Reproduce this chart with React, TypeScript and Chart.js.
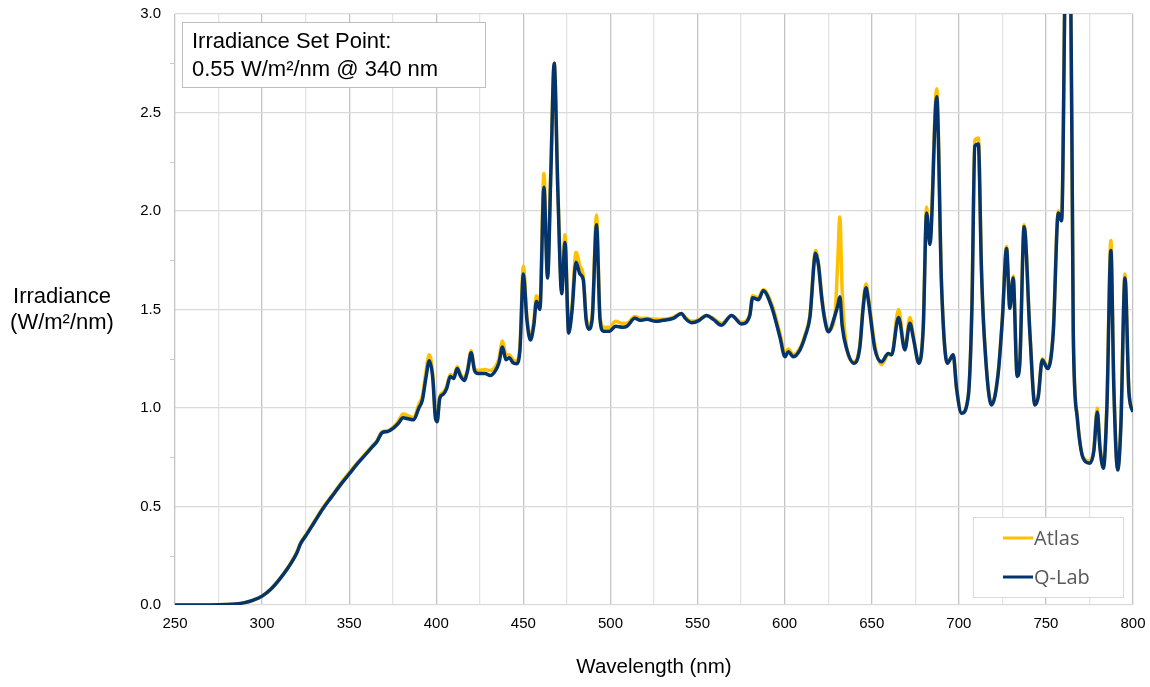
import React, { useEffect, useRef } from "react";
import { Chart, registerables } from "chart.js";

Chart.register(...registerables);

const wavelengths = [
  250, 260, 270, 280, 285, 290, 295, 300, 305, 310, 315, 320, 322, 325, 330, 335, 340, 345, 350, 355,
  360, 363, 366, 369, 372, 375, 378, 381, 384, 387, 390, 392, 394, 396, 398, 399.5, 400.5, 402, 404, 406,
  408, 410, 412, 414, 416, 418, 420, 422, 424, 428, 431, 434, 436, 438, 440, 442, 444, 446, 448, 450,
  452, 454, 456, 457.5, 459.5, 461.8, 463.9, 465.8, 467.7, 469.8, 472, 473.9, 476, 478, 480.2, 482.5, 484.4, 486, 487.5, 489.5,
  492, 494, 496, 499.5, 503, 507, 509.5, 514, 517, 521, 526, 530, 536, 540.8, 543, 546.6, 551, 555.2, 559, 563.8,
  569.5, 575.3, 580, 581.6, 585, 587.7, 592.5, 597.3, 600.2, 602.1, 605, 608.8, 612, 614.5, 617.8, 619.5, 621.2, 623, 625.1, 628.9,
  630.5, 631.7, 633, 635.6, 639.8, 643.2, 645, 646.7, 648, 651.8, 655.6, 659.5, 661.4, 665.4, 669, 671.9, 674, 677.1, 679.6, 681.5,
  683.4, 687.3, 690.1, 693.4, 696.8, 698.7, 701.6, 705.4, 707.5, 709.2, 711.2, 713, 714.5, 718.8, 722.6, 725, 727.4, 729.3, 731.2, 733.5,
  735, 737.5, 740.8, 743.7, 745.6, 747.9, 751, 754.2, 757.1, 759, 761.9, 763.8, 765.7, 768, 771.4, 775.3, 777.5, 779.5, 781, 783,
  785, 787.3, 789, 791.2, 793, 795.4, 797.7, 800,
];

const qlabValues = [
  0, 0, 0, 0.002, 0.005, 0.012, 0.025, 0.045, 0.08, 0.13, 0.19, 0.265, 0.31, 0.35, 0.42, 0.49, 0.55, 0.61, 0.665, 0.72,
  0.77, 0.8, 0.83, 0.875, 0.88, 0.895, 0.92, 0.95, 0.945, 0.94, 1.0, 1.04, 1.15, 1.24, 1.15, 0.95, 0.93, 1.05, 1.07, 1.1,
  1.16, 1.15, 1.2, 1.16, 1.14, 1.19, 1.28, 1.19, 1.175, 1.175, 1.165, 1.19, 1.23, 1.31, 1.245, 1.255, 1.23, 1.225, 1.29, 1.68,
  1.45, 1.345, 1.42, 1.54, 1.5, 2.12, 1.66, 2.2, 2.75, 2.1, 1.58, 1.84, 1.38, 1.5, 1.74, 1.68, 1.65, 1.45, 1.4, 1.45,
  1.93, 1.45, 1.39, 1.39, 1.415, 1.41, 1.415, 1.455, 1.445, 1.45, 1.44, 1.445, 1.455, 1.48, 1.455, 1.433, 1.445, 1.47, 1.45, 1.42,
  1.47, 1.426, 1.47, 1.56, 1.55, 1.595, 1.515, 1.36, 1.26, 1.286, 1.26, 1.295, 1.37, 1.46, 1.785, 1.72, 1.565, 1.45, 1.387, 1.47,
  1.52, 1.565, 1.42, 1.3, 1.227, 1.31, 1.5, 1.61, 1.55, 1.3, 1.235, 1.277, 1.27, 1.46, 1.295, 1.43, 1.35, 1.227, 1.413, 1.99,
  1.83, 2.58, 1.617, 1.227, 1.27, 1.1, 0.973, 1.057, 1.5, 2.33, 2.34, 1.7, 1.38, 1.015, 1.176, 1.45, 1.81, 1.506, 1.66, 1.16,
  1.227, 1.92, 1.38, 1.015, 1.057, 1.244, 1.2, 1.38, 1.99, 1.95, 3.6, 3.6, 1.38, 0.95, 0.745, 0.72, 0.78, 0.98, 0.8, 0.694,
  1.0, 1.8, 1.1, 0.685, 0.9, 1.66, 1.075, 0.98,
];

const atlasValues = [
  0, 0, 0, 0.002, 0.005, 0.012, 0.025, 0.046, 0.081, 0.132, 0.193, 0.27, 0.315, 0.355, 0.425, 0.495, 0.555, 0.615, 0.672, 0.725,
  0.775, 0.805, 0.835, 0.88, 0.885, 0.9, 0.93, 0.97, 0.96, 0.95, 1.02, 1.06, 1.18, 1.27, 1.17, 0.96, 0.935, 1.06, 1.08, 1.11,
  1.17, 1.16, 1.21, 1.17, 1.15, 1.2, 1.29, 1.2, 1.19, 1.195, 1.19, 1.21, 1.25, 1.34, 1.27, 1.27, 1.245, 1.24, 1.31, 1.72,
  1.47, 1.36, 1.44, 1.57, 1.52, 2.19, 1.68, 2.22, 2.75, 2.12, 1.6, 1.88, 1.4, 1.53, 1.79, 1.72, 1.67, 1.47, 1.42, 1.47,
  1.98, 1.47, 1.41, 1.41, 1.44, 1.43, 1.43, 1.465, 1.455, 1.455, 1.45, 1.45, 1.46, 1.48, 1.46, 1.44, 1.45, 1.47, 1.455, 1.43,
  1.47, 1.435, 1.475, 1.57, 1.56, 1.6, 1.53, 1.38, 1.28, 1.3, 1.27, 1.305, 1.38, 1.47, 1.8, 1.73, 1.58, 1.46, 1.395, 1.47,
  1.75, 1.97, 1.6, 1.31, 1.235, 1.32, 1.52, 1.63, 1.57, 1.32, 1.22, 1.27, 1.27, 1.5, 1.3, 1.46, 1.36, 1.23, 1.42, 2.02,
  1.85, 2.62, 1.63, 1.23, 1.27, 1.1, 0.975, 1.06, 1.52, 2.36, 2.37, 1.72, 1.39, 1.02, 1.18, 1.46, 1.82, 1.51, 1.67, 1.17,
  1.23, 1.93, 1.39, 1.02, 1.06, 1.25, 1.21, 1.39, 2.0, 1.96, 3.6, 3.6, 1.4, 0.96, 0.75, 0.73, 0.79, 1.0, 0.81, 0.7,
  1.02, 1.85, 1.12, 0.69, 0.92, 1.68, 1.08, 0.99,
];

const xTickValues = [250, 300, 350, 400, 450, 500, 550, 600, 650, 700, 750, 800];
const yTickValues = [0, 0.5, 1.0, 1.5, 2.0, 2.5, 3.0];

const seriesNames = ["Atlas", "Q-Lab"];
const annotationLines = ["Irradiance Set Point:", "0.55 W/m\u00B2/nm @ 340 nm"];
const yTitleLines = ["Irradiance", "(W/m\u00B2/nm)"];
const xTitle = "Wavelength (nm)";

const ATLAS_COLOR = "#FFC000";
const QLAB_COLOR = "#03346E";
const SANS = '"Liberation Sans", Arial, sans-serif';

const overlayPlugin = {
  id: "overlay",
  afterDraw(chart: any) {
    const { ctx, chartArea } = chart;
    const { left, right, top, bottom } = chartArea;
    ctx.save();

    // minor y ticks
    ctx.strokeStyle = "#c8c8c8";
    ctx.lineWidth = 1;
    const yScale = chart.scales.y;
    for (let v = 0.25; v < 3; v += 0.5) {
      const py = Math.round(yScale.getPixelForValue(v)) + 0.5;
      ctx.beginPath();
      ctx.moveTo(left - 5, py);
      ctx.lineTo(left, py);
      ctx.stroke();
    }

    // annotation box
    const bx = left + 7, by = top + 8, bw = 303, bh = 65;
    ctx.fillStyle = "#ffffff";
    ctx.fillRect(bx, by, bw, bh);
    ctx.strokeStyle = "#bfbfbf";
    ctx.lineWidth = 1;
    ctx.strokeRect(bx + 0.5, by + 0.5, bw, bh);
    ctx.fillStyle = "#000000";
    ctx.font = `22px ${SANS}`;
    ctx.textAlign = "left";
    ctx.textBaseline = "middle";
    ctx.fillText(annotationLines[0], bx + 10, by + 20);
    ctx.fillText(annotationLines[1], bx + 10, by + 48);

    // legend box
    const lw = 150, lh = 80;
    const lx = right - 10 - lw, ly = bottom - 8 - lh;
    ctx.fillStyle = "#ffffff";
    ctx.fillRect(lx, ly, lw, lh);
    ctx.strokeStyle = "#d9d9d9";
    ctx.strokeRect(lx + 0.5, ly + 0.5, lw, lh);
    const colors = [ATLAS_COLOR, QLAB_COLOR];
    const rowsY = [ly + 21, ly + 60];
    ctx.font = `20px "Open Sans", sans-serif`;
    for (let i = 0; i < 2; i++) {
      ctx.strokeStyle = colors[i];
      ctx.lineWidth = 3;
      ctx.beginPath();
      ctx.moveTo(lx + 30, rowsY[i]);
      ctx.lineTo(lx + 60, rowsY[i]);
      ctx.stroke();
      ctx.fillStyle = "#595959";
      ctx.fillText(seriesNames[i], lx + 61, rowsY[i] + 1);
    }

    // y title
    ctx.fillStyle = "#000000";
    ctx.font = `22px ${SANS}`;
    ctx.textAlign = "center";
    ctx.fillText(yTitleLines[0], 62, 297);
    ctx.fillText(yTitleLines[1], 62, 323);

    // x title
    ctx.font = `20.5px ${SANS}`;
    ctx.fillText(xTitle, (left + right) / 2, 667);
    ctx.restore();
  },
};

export default function App() {
  const canvasRef = useRef<HTMLCanvasElement | null>(null);

  useEffect(() => {
    document.body.style.margin = "0";
    const canvas = canvasRef.current;
    if (!canvas) return;
    const atlasData = wavelengths.map((x, i) => ({ x, y: atlasValues[i] }));
    const qlabData = wavelengths.map((x, i) => ({ x, y: qlabValues[i] }));

    const chart = new Chart(canvas, {
      type: "line",
      data: {
        datasets: [
          {
            label: seriesNames[0],
            data: atlasData,
            borderColor: ATLAS_COLOR,
            backgroundColor: ATLAS_COLOR,
            borderWidth: 3.5,
            pointRadius: 0,
            cubicInterpolationMode: "monotone",
            order: 2,
          },
          {
            label: seriesNames[1],
            data: qlabData,
            borderColor: QLAB_COLOR,
            backgroundColor: QLAB_COLOR,
            borderWidth: 3.5,
            pointRadius: 0,
            cubicInterpolationMode: "monotone",
            order: 1,
          },
        ],
      },
      options: {
        responsive: false,
        animation: false,
        events: [],
        layout: { padding: { left: 0, right: 17, top: 14, bottom: 0 } },
        plugins: { legend: { display: false }, tooltip: { enabled: false } },
        scales: {
          x: {
            type: "linear",
            min: 250,
            max: 800,
            afterFit: (s: any) => {
              s.height = 82;
              s.paddingLeft = 0;
              s.paddingRight = 0;
            },
            afterBuildTicks: (s: any) => {
              const t = [];
              for (let v = 250; v <= 800; v += 25) t.push({ value: v });
              s.ticks = t;
            },
            ticks: {
              padding: 10,
              maxRotation: 0,
              autoSkip: false,
              color: "#000000",
              font: { family: SANS, size: 15 },
              callback: (v: any) => (xTickValues.includes(Number(v)) ? String(v) : ""),
            },
            grid: {
              drawTicks: false,
              color: (c: any) => (c.tick && c.tick.value % 50 === 0 ? "#c4c4c4" : "#e3e3e3"),
              lineWidth: 1.3,
            },
            border: { display: false },
          },
          y: {
            type: "linear",
            min: 0,
            max: 3,
            afterFit: (s: any) => {
              s.width = 175;
              s.paddingTop = 0;
              s.paddingBottom = 0;
            },
            afterBuildTicks: (s: any) => {
              s.ticks = yTickValues.map((v) => ({ value: v }));
            },
            ticks: {
              padding: 14,
              color: "#000000",
              font: { family: SANS, size: 15 },
              callback: (v: any) => Number(v).toFixed(1),
            },
            grid: { drawTicks: false, color: "#dadada", lineWidth: 1.3 },
            border: { display: false },
          },
        },
      },
      plugins: [overlayPlugin],
    });
    return () => chart.destroy();
  }, []);

  return (
    <div style={{ width: 1150, height: 687, position: "relative", background: "#fff" }}>
      <canvas ref={canvasRef} width={1150} height={687} style={{ width: 1150, height: 687, display: "block" }} />
    </div>
  );
}
